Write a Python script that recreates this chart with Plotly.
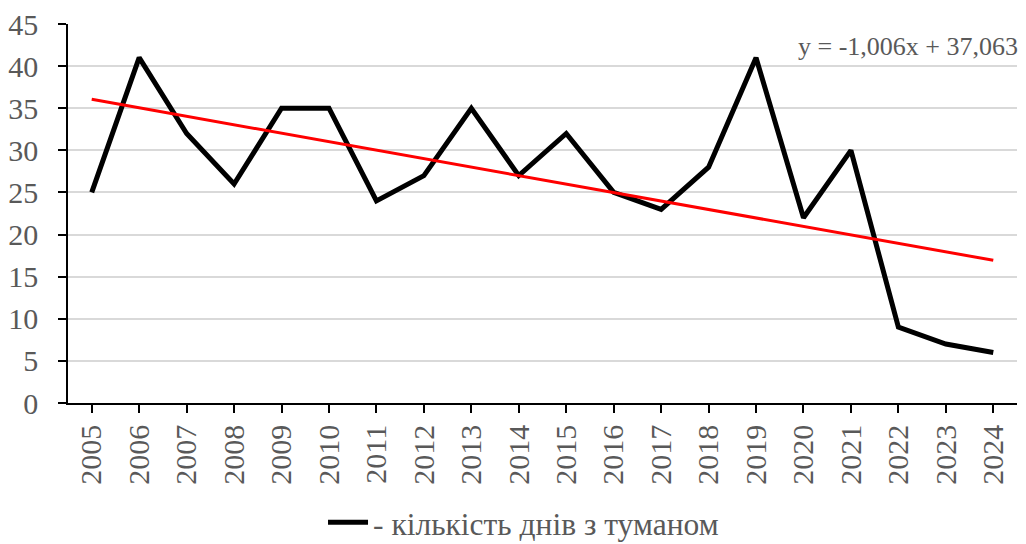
import plotly.graph_objects as go

years = [str(y) for y in range(2005, 2025)]
fog_days = [25, 41, 32, 26, 35, 35, 24, 27, 35, 27, 32, 25, 23, 28, 41, 22, 30, 9, 7, 6]
slope = -1.006
intercept = 37.063
trend_label = "y = -1,006x + 37,063"
series_name = "- кількість днів з туманом"

trend = [slope * (i + 1) + intercept for i in range(len(years))]

FONT = "Liberation Serif"
GRAY = "#595959"

fig = go.Figure()
fig.add_trace(go.Scatter(
    x=years, y=fog_days, mode="lines", name=series_name,
    line=dict(color="black", width=5), showlegend=True,
))
fig.add_trace(go.Scatter(
    x=years, y=trend, mode="lines", name="trend",
    line=dict(color="#ff0000", width=3), showlegend=False,
))

fig.add_annotation(
    x=1.003, xref="paper", y=42.3, yref="y", xanchor="right", yanchor="middle",
    text=trend_label, showarrow=False, font=dict(family=FONT, size=26, color=GRAY),
)

# the page body adds an 8px offset, so the figure is 8px smaller than the window
fig.update_layout(
    width=1018, height=536,
    margin=dict(l=60, r=9, t=16, b=141, autoexpand=False),
    paper_bgcolor="white", plot_bgcolor="white",
    font=dict(family=FONT, color=GRAY),
    legend=dict(
        orientation="h", x=0.48, xanchor="center", y=-0.315, yanchor="middle",
        font=dict(family=FONT, size=31.5, color=GRAY),
        itemwidth=40,
    ),
)
fig.update_xaxes(
    type="category", tickangle=-90, range=[-0.5, len(years) - 0.5],
    automargin=False, ticklabeloverflow="allow",
    showline=True, linecolor="black", linewidth=1.5,
    ticks="outside", ticklen=8, tickcolor="black", tickwidth=1.5,
    tickfont=dict(family=FONT, size=30, color=GRAY),
    showgrid=False, ticklabelstandoff=0,
)
fig.update_yaxes(
    range=[0, 45], dtick=5, automargin=False, ticklabeloverflow="allow",
    showline=True, linecolor="black", linewidth=1.5,
    ticks="outside", ticklen=8, tickcolor="black", tickwidth=1.5,
    tickfont=dict(family=FONT, size=30, color=GRAY),
    showgrid=True, gridcolor="#d9d9d9", gridwidth=1.5,
    zeroline=False, ticklabelstandoff=14,
)

fig.write_html("out.html")
